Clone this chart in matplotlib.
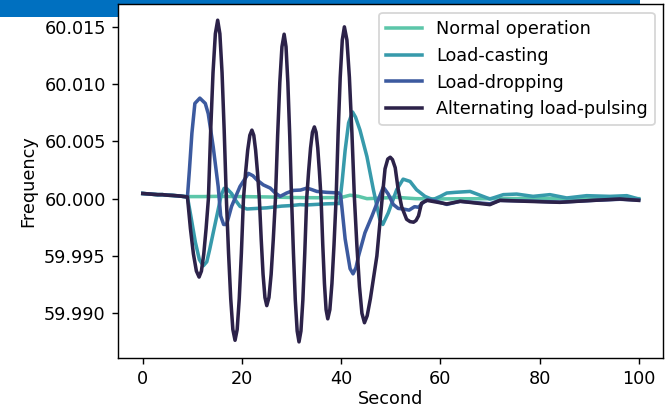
import matplotlib
matplotlib.use("Agg")
import matplotlib.pyplot as plt
from matplotlib.patches import Rectangle

# values (Hz)
t_pre = [0, 1, 2, 3, 4, 5, 6, 7, 8]
f_pre = [60.00045, 60.00042, 60.00038, 60.00035, 60.00035, 60.00030, 60.00028, 60.00025, 60.00020]

t_normal = t_pre + [9.0, 12, 15, 20, 25, 30, 35, 40, 41.8, 43.5, 45.2, 48, 51, 55, 60, 70, 80, 90, 100]
f_normal = f_pre + [60.00018, 60.00018, 60.00020, 60.00018, 60.00015, 60.00010, 60.00008, 60.00010,
                    60.00030, 60.00020, 60.00000, 60.00005, 60.00012, 60.00000, 59.99998, 60.00000,
                    60.00002, 60.00000, 60.00000]

t_casting = t_pre + [9.0, 9.8, 10.6, 11.4, 12.2, 12.9, 13.5, 14.2, 15.2, 15.8, 16.4, 17.0, 17.9, 18.8,
                     19.6, 21.0, 23.0, 25.0, 28.0, 30.0, 31.7, 33.0, 35.0, 37.0, 39.7, 40.2, 40.8,
                     41.5, 42.3, 42.9, 43.8, 45.2, 46.5, 47.8, 48.4, 49.5, 51.2, 52.5, 53.9, 55.2,
                     56.9, 58.5, 60.0, 61.3, 63.0, 66.0, 68.0, 70.0, 72.7, 75.4, 78.7, 82.1, 85.5,
                     89.5, 94.2, 97.6, 100]
f_casting = f_pre + [60.00015, 59.99820, 59.99620, 59.99470, 59.99415, 59.99450, 59.99560, 59.99703,
                     59.99905, 60.00030, 60.00090, 60.00085, 60.00045, 59.99980, 59.99933, 59.99910,
                     59.99915, 59.99920, 59.99935, 59.99940, 59.99948, 59.99945, 59.99950, 59.99955,
                     59.99958, 60.00150, 60.00420, 60.00660, 60.00755, 60.00710, 60.00597, 60.00366,
                     60.00078, 59.99818, 59.99775, 59.99876, 60.00078, 60.00170, 60.00150, 60.00078,
                     60.00020, 59.99991, 60.00020, 60.00049, 60.00055, 60.00063, 60.00030, 59.99997,
                     60.00035, 60.00040, 60.00020, 60.00035, 60.00006, 60.00026, 60.00020, 60.00026,
                     59.99997]

t_dropping = t_pre + [9.0, 9.4, 9.9, 10.5, 11.5, 12.6, 13.2, 14.2, 15.2, 15.7, 16.3, 16.9, 17.9, 19.6,
                      21.3, 22.2, 23.0, 24.3, 25.7, 26.7, 27.7, 29.0, 30.4, 31.8, 33.1, 34.0, 35.1,
                      37.1, 39.5, 39.9, 40.8, 41.8, 42.4, 43.0, 43.5, 44.8, 46.2, 47.5, 48.5, 49.5,
                      50.5, 51.5, 52.5, 53.7, 54.8, 55.6, 56.6, 57.5, 59.0, 61.3, 64.0, 70.0, 72.0,
                      77.4, 84.1, 90.8, 96.2, 100]
f_dropping = f_pre + [60.00015, 60.00250, 60.00570, 60.00830, 60.00876, 60.00830, 60.00740, 60.00450,
                      60.00106, 59.99850, 59.99775, 59.99775, 59.99933, 60.00106, 60.00220, 60.00200,
                      60.00164, 60.00120, 60.00092, 60.00050, 60.00020, 60.00049, 60.00072, 60.00075,
                      60.00092, 60.00080, 60.00063, 60.00055, 60.00050, 60.00030, 59.99650, 59.99390,
                      59.99345, 59.99400, 59.99500, 59.99703, 59.99847, 59.99991, 60.00100, 60.00040,
                      59.99950, 59.99915, 59.99910, 59.99900, 59.99930, 59.99925, 59.99970, 59.99990,
                      59.99980, 59.99950, 59.99977, 59.99955, 59.99985, 59.99980, 59.99970, 59.99985,
                      59.99995, 59.99988]

t_pulsing = t_pre + [9.0, 9.6, 10.2, 10.8, 11.35, 11.82, 12.29, 12.76, 13.23, 13.69, 14.16, 14.63,
                     15.10, 15.54, 15.98, 16.41, 16.85, 17.29, 17.73, 18.16, 18.60, 19.03, 19.45,
                     19.88, 20.30, 20.73, 21.15, 21.58, 22.00, 22.38, 22.75, 23.13, 23.50, 23.88,
                     24.25, 24.63, 25.00, 25.44, 25.88, 26.31, 26.75, 27.19, 27.63, 28.06, 28.50,
                     28.88, 29.25, 29.63, 30.00, 30.38, 30.75, 31.13, 31.50, 31.89, 32.28, 32.66,
                     33.05, 33.44, 33.83, 34.21, 34.60, 34.94, 35.28, 35.61, 35.95, 36.29, 36.63,
                     36.96, 37.30, 37.72, 38.14, 38.56, 38.98, 39.39, 39.81, 40.23, 40.65, 41.16,
                     41.66, 42.17, 42.68, 43.18, 43.69, 44.19, 44.70, 45.25, 45.90, 47.20, 48.20,
                     48.85, 49.40, 49.90, 50.35, 50.90, 51.50, 52.20, 53.20, 53.90, 54.60, 55.10,
                     55.60, 56.20, 57.30, 61.3, 64.0, 70.0, 72.0, 77.4, 84.1, 90.8, 96.2, 100]
f_pulsing = f_pre + [60.00015, 59.99740, 59.99520, 59.99370, 59.99317, 59.99369, 59.99517, 59.99738,
                     60.00000, 60.00596, 60.01099, 60.01437, 60.01555, 60.01437, 60.01099, 60.00596,
                     60.00000, 59.99527, 59.99128, 59.98860, 59.98766, 59.98860, 59.99128, 59.99527,
                     60.00000, 60.00229, 60.00422, 60.00552, 60.00597, 60.00552, 60.00422, 60.00229,
                     60.00000, 59.99643, 59.99341, 59.99139, 59.99068, 59.99139, 59.99341, 59.99643,
                     60.00000, 60.00549, 60.01013, 60.01324, 60.01433, 60.01324, 60.01013, 60.00549,
                     60.00000, 59.99522, 59.99118, 59.98847, 59.98752, 59.98847, 59.99118, 59.99522,
                     60.00000, 60.00239, 60.00442, 60.00578, 60.00625, 60.00578, 60.00442, 60.00239,
                     60.00000, 59.99599, 59.99260, 59.99033, 59.98953, 59.99033, 59.99260, 59.99599,
                     60.00000, 60.00573, 60.01058, 60.01383, 60.01497, 60.01383, 60.01058, 60.00573,
                     60.00000, 59.99586, 59.99236, 59.99001, 59.98919, 59.98980, 59.99130, 59.99500,
                     59.99970, 60.00260, 60.00345, 60.00361, 60.00340, 60.00270, 60.00080, 59.99930,
                     59.99820, 59.99800, 59.99795, 59.99810, 59.99850, 59.99960, 59.99985, 59.99954,
                     59.99977, 59.99948, 59.99985, 59.99977, 59.99968, 59.99985, 59.99997, 59.99985]

labels = ["Normal operation", "Load-casting", "Load-dropping", "Alternating load-pulsing"]
colors = ["#5cc6a9", "#379aab", "#3c5a9f", "#2c2249"]

fig = plt.figure(figsize=(666 / 127, 411 / 127), dpi=127)
# blue header strip visible at the top of the screenshot
fig.patches.append(Rectangle((0, 0.9586), 640 / 666, 0.0414, transform=fig.transFigure,
                             facecolor="#0070c0", edgecolor="none", zorder=-1))
ax = fig.add_axes([0.1772, 0.129, 0.819, 0.861])

series = [(t_normal, f_normal), (t_casting, f_casting), (t_dropping, f_dropping), (t_pulsing, f_pulsing)]
for (t, f), label, color in zip(series, labels, colors):
    ax.plot(t, f, color=color, linewidth=2, label=label)

ax.set_xlabel("Second", labelpad=1)
ax.set_ylabel("Frequency")
ax.ticklabel_format(axis="y", useOffset=False)
ax.set_yticks([59.990, 59.995, 60.000, 60.005, 60.010, 60.015])
ax.set_yticklabels(["59.990", "59.995", "60.000", "60.005", "60.010", "60.015"])
ax.legend(loc="upper right")

fig.savefig("out.png", dpi=127)
